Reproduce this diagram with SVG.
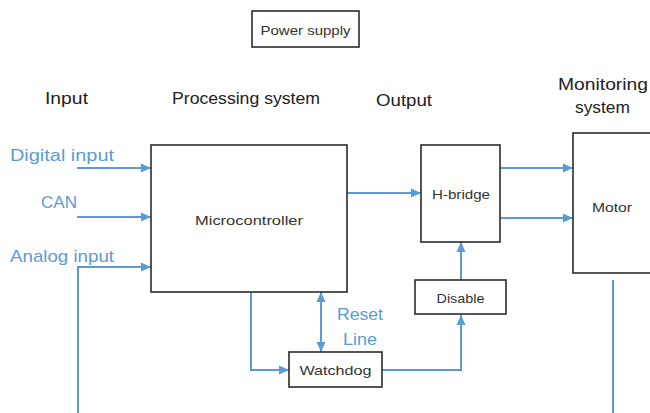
<svg xmlns="http://www.w3.org/2000/svg" width="650" height="413" viewBox="0 0 650 413">
<defs>
<marker id="ah" markerUnits="userSpaceOnUse" markerWidth="10" markerHeight="10" viewBox="0 0 10 10" refX="10" refY="5" orient="auto-start-reverse">
<path d="M0,0.5 L10,5 L0,9.5 Z" fill="#5b9bd5"/>
</marker>
</defs>
<style>
.box{fill:#fff;stroke:#2b2b2b;stroke-width:1.6}
.lbl{font-family:"Liberation Sans",Arial,sans-serif;font-size:13px;fill:#333}
.hd{font-family:"Liberation Sans",Arial,sans-serif;font-size:17px;fill:#222}
.bl{font-family:"Liberation Sans",Arial,sans-serif;font-size:17px;fill:#5b9bd5}
.ln{fill:none;stroke:#5b9bd5;stroke-width:2}
.arr{marker-end:url(#ah)}
</style>
<rect width="650" height="413" fill="#fff"/>

<g id="headings">
<text class="hd" x="45" y="104" textLength="43" lengthAdjust="spacingAndGlyphs">Input</text>
<text class="hd" x="172" y="104" textLength="148" lengthAdjust="spacingAndGlyphs">Processing system</text>
<text class="hd" x="376" y="106" textLength="56" lengthAdjust="spacingAndGlyphs">Output</text>
<text class="hd" x="558" y="90" textLength="90" lengthAdjust="spacingAndGlyphs">Monitoring</text>
<text class="hd" x="575" y="113" textLength="55" lengthAdjust="spacingAndGlyphs">system</text>
</g>

<g id="input-labels">
<text class="bl" x="10" y="161" textLength="104" lengthAdjust="spacingAndGlyphs">Digital input</text>
<text class="bl" x="41" y="208" textLength="36" lengthAdjust="spacingAndGlyphs">CAN</text>
<text class="bl" x="10" y="262" textLength="104" lengthAdjust="spacingAndGlyphs">Analog input</text>
<text class="bl" x="337" y="320" textLength="46" lengthAdjust="spacingAndGlyphs">Reset</text>
<text class="bl" x="343" y="345" textLength="34" lengthAdjust="spacingAndGlyphs">Line</text>
</g>

<g id="connectors">
<path class="ln arr" d="M77,168 H151"/>
<path class="ln arr" d="M77,217 H151"/>
<path class="ln arr" d="M78,413 V267 H151"/>
<path class="ln arr" d="M347,193 H421"/>
<path class="ln arr" d="M500,168 H573"/>
<path class="ln arr" d="M500,218 H573"/>
<path class="ln arr" d="M461,280 V242"/>
<path class="ln arr" d="M382,370 H461 V315"/>
<path class="ln arr" d="M251,292 V370 H289"/>
<path class="ln" d="M321,292 V352" marker-start="url(#ah)" marker-end="url(#ah)"/>
<path class="ln" d="M613,280 V413"/>
</g>

<g id="power-supply">
<rect class="box" x="252" y="11" width="107" height="36"/>
<text class="lbl" x="305.5" y="35" text-anchor="middle" textLength="90" lengthAdjust="spacingAndGlyphs">Power supply</text>
</g>

<g id="microcontroller">
<rect class="box" x="151" y="145" width="196" height="147"/>
<text class="lbl" x="249" y="225" text-anchor="middle" textLength="108" lengthAdjust="spacingAndGlyphs">Microcontroller</text>
</g>

<g id="h-bridge">
<rect class="box" x="421" y="145" width="79" height="97"/>
<text class="lbl" x="461" y="199" text-anchor="middle" textLength="58" lengthAdjust="spacingAndGlyphs">H-bridge</text>
</g>

<g id="motor">
<rect class="box" x="573" y="133" width="80" height="140"/>
<text class="lbl" x="612" y="212" text-anchor="middle" textLength="40" lengthAdjust="spacingAndGlyphs">Motor</text>
</g>

<g id="disable">
<rect class="box" x="415" y="280" width="91" height="34"/>
<text class="lbl" x="460.5" y="303" text-anchor="middle" textLength="48" lengthAdjust="spacingAndGlyphs">Disable</text>
</g>

<g id="watchdog">
<rect class="box" x="289" y="352" width="93" height="35"/>
<text class="lbl" x="335.5" y="375" text-anchor="middle" textLength="72" lengthAdjust="spacingAndGlyphs">Watchdog</text>
</g>
</svg>
